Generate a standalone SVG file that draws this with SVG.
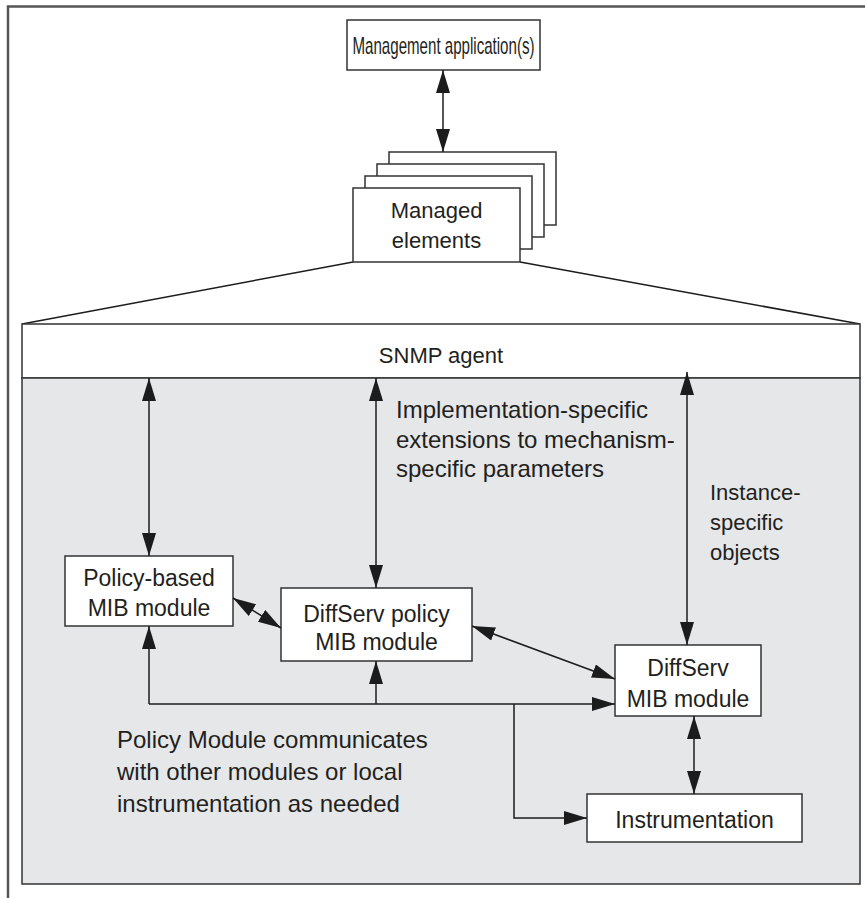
<svg xmlns="http://www.w3.org/2000/svg" width="865" height="899" viewBox="0 0 865 899">
  <defs>
    <marker id="ah" viewBox="0 0 23 14" refX="23" refY="7" markerWidth="23" markerHeight="14" markerUnits="userSpaceOnUse" orient="auto-start-reverse">
      <path d="M0,0 L23,7 L0,14 z" fill="#1c1c1c"/>
    </marker>
    <style>
      .box { fill: #ffffff; stroke: #333333; stroke-width: 1.5; }
      .t { font-family: "Liberation Sans", Arial, sans-serif; font-size: 22px; fill: #231f20; }
      .m { font-size: 23px; }
      .l { font-size: 24px; }
      .c { text-anchor: middle; }
      .ln { fill: none; stroke: #1c1c1c; stroke-width: 1.5; }
    </style>
  </defs>

  <!-- page frame (top and left edges only) -->
  <path d="M8,898 V6.5 H865" fill="none" stroke="#555555" stroke-width="2.5"/>

  <!-- expansion lines from the managed element to the agent -->
  <path d="M353,262 L22,324 M520,262 L860,324" class="ln"/>

  <!-- agent area -->
  <g id="snmp-agent">
    <rect x="22" y="324" width="838" height="54" class="box"/>
    <text x="441" y="363" class="t c">SNMP agent</text>
  </g>
  <rect id="agent-body" x="22" y="378" width="838" height="506" fill="#e6e7e9" stroke="#333333" stroke-width="1.5"/>

  <g id="management-app">
    <rect x="347" y="20" width="193" height="50" class="box"/>
    <text x="443.5" y="54" class="t c" style="font-size:24px" textLength="182" lengthAdjust="spacingAndGlyphs">Management application(s)</text>
  </g>

  <g id="managed-elements">
    <rect x="389" y="152" width="167" height="73" class="box"/>
    <rect x="377" y="164" width="167" height="73" class="box"/>
    <rect x="365" y="176" width="167" height="73" class="box"/>
    <rect x="353" y="188" width="167" height="74" class="box"/>
    <text x="436.5" y="218" class="t c">Managed</text>
    <text x="436.5" y="248" class="t c">elements</text>
  </g>

  <g id="policy-based-mib">
    <rect x="65" y="556" width="168" height="70" class="box"/>
    <text x="149" y="586" class="t m c">Policy-based</text>
    <text x="149" y="616" class="t m c">MIB module</text>
  </g>

  <g id="diffserv-policy-mib">
    <rect x="281" y="588" width="191" height="73" class="box"/>
    <text x="376.5" y="622" class="t m c">DiffServ policy</text>
    <text x="376.5" y="650" class="t m c">MIB module</text>
  </g>

  <g id="diffserv-mib">
    <rect x="615" y="645" width="146" height="71" class="box"/>
    <text x="688" y="676" class="t m c">DiffServ</text>
    <text x="688" y="707" class="t m c">MIB module</text>
  </g>

  <g id="instrumentation">
    <rect x="587" y="794" width="215" height="48" class="box"/>
    <text x="694.5" y="828" class="t m c">Instrumentation</text>
  </g>

  <g id="connectors">
    <line x1="443" y1="70" x2="443" y2="152" class="ln" marker-start="url(#ah)" marker-end="url(#ah)"/>
    <line x1="149" y1="378" x2="149" y2="556" class="ln" marker-start="url(#ah)" marker-end="url(#ah)"/>
    <line x1="376" y1="378" x2="376" y2="588" class="ln" marker-start="url(#ah)" marker-end="url(#ah)"/>
    <line x1="687" y1="372" x2="687" y2="645" class="ln" marker-start="url(#ah)" marker-end="url(#ah)"/>
    <line x1="233" y1="598" x2="281" y2="628" class="ln" marker-start="url(#ah)" marker-end="url(#ah)"/>
    <line x1="472" y1="626" x2="615" y2="679" class="ln" marker-start="url(#ah)" marker-end="url(#ah)"/>
    <line x1="694" y1="716" x2="694" y2="794" class="ln" marker-start="url(#ah)" marker-end="url(#ah)"/>
    <path d="M149,704 H615" class="ln" marker-end="url(#ah)"/>
    <path d="M149,704 V626" class="ln" marker-end="url(#ah)"/>
    <path d="M376,704 V661" class="ln" marker-end="url(#ah)"/>
    <path d="M514,704 V818 H587" class="ln" marker-end="url(#ah)"/>
  </g>

  <g id="notes">
    <text x="396" y="418" class="t l">Implementation-specific</text>
    <text x="396" y="448" class="t l">extensions to mechanism-</text>
    <text x="396" y="477" class="t l">specific parameters</text>
    <text x="710" y="500" class="t">Instance-</text>
    <text x="710" y="530" class="t">specific</text>
    <text x="710" y="560" class="t">objects</text>
    <text x="117" y="748" class="t l">Policy Module communicates</text>
    <text x="117" y="780" class="t l">with other modules or local</text>
    <text x="117" y="812" class="t l">instrumentation as needed</text>
  </g>
</svg>
